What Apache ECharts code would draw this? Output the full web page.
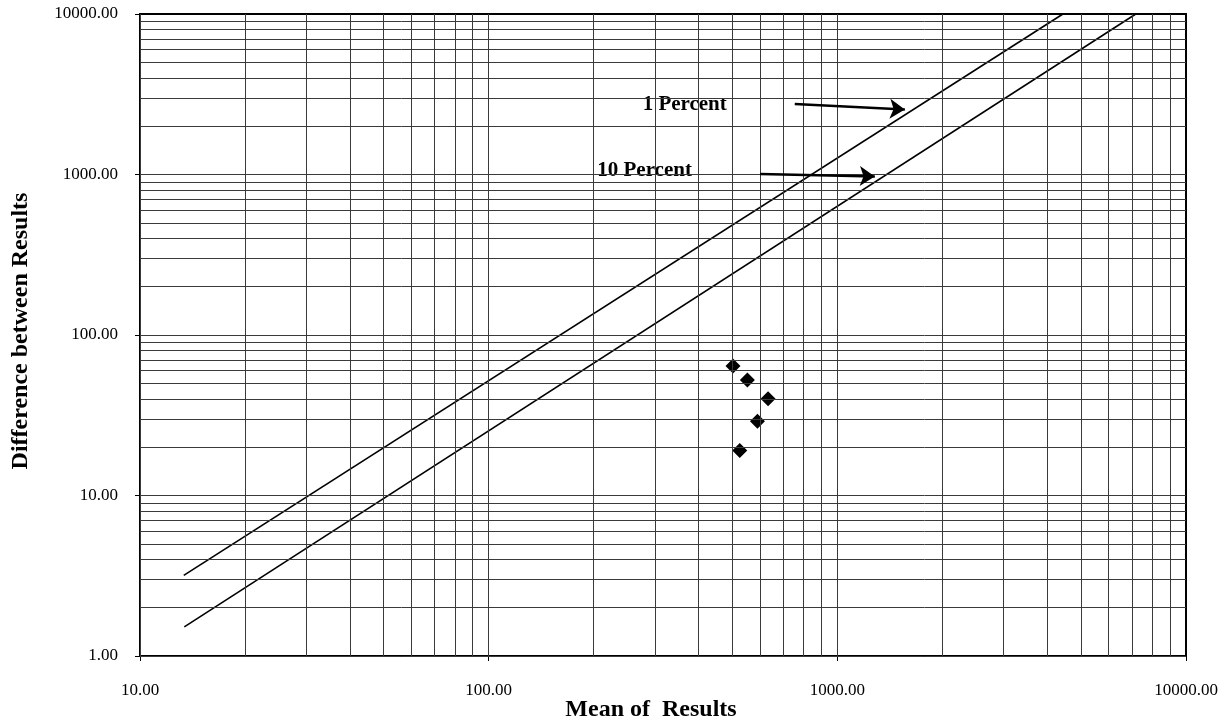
<!DOCTYPE html>
<html>
<head>
<meta charset="utf-8">
<script src="https://cdn.jsdelivr.net/npm/echarts@6/dist/echarts.min.js"></script>
<style>
  html, body { margin: 0; padding: 0; background: #fff; }
  #main { width: 1227px; height: 725px; }
</style>
</head>
<body>
<div id="main"></div>
<script>
// data
var meanX = [502, 552, 633, 590, 525];
var diffY = [64.2, 52.5, 40.1, 29.0, 19.1];

var line1x = [13.35, 4436];
var line1y = [3.18, 10000];
var line10x = [13.4, 7178];
var line10y = [1.52, 10000];

var noteNames = ['1 Percent', '10 Percent'];
var noteX = [365, 280];
var noteY = [2726, 1061];
var arrowFrom = [[755, 2754], [600, 1007]];
var arrowTo = [[1562, 2537], [1281, 973]];

var xMinor = [];
var yMinor = [];
[10, 100, 1000].forEach(function (d) {
  for (var i = 1; i <= 9; i++) xMinor.push(d * i);
});
[1, 10, 100, 1000].forEach(function (d) {
  for (var i = 1; i <= 9; i++) yMinor.push(d * i);
});

var font = '"Liberation Serif", "Times New Roman", serif';
var gridColor = '#3a3a3a';

function pairs(xs, ys) {
  return xs.map(function (x, i) { return [x, ys[i]]; });
}

var myChart = echarts.init(document.getElementById('main'));

var gridLines = [];
xMinor.forEach(function (v) { gridLines.push({ xAxis: v }); });
yMinor.forEach(function (v) { gridLines.push({ yAxis: v }); });

var option = {
  animation: false,
  backgroundColor: '#fff',
  grid: {
    left: 140, right: 41, top: 14, bottom: 69,
    outerBoundsMode: 'none',
    containLabel: false,
    show: true, borderColor: '#000', borderWidth: 2
  },
  xAxis: {
    type: 'log',
    logBase: 10,
    min: 10,
    max: 10000,
    name: 'Mean of  Results',
    nameLocation: 'middle',
    nameGap: 42,
    nameMoveOverlap: false,
    nameTextStyle: { fontFamily: font, fontSize: 24, fontWeight: 'bold', color: '#000', padding: [0, 24, 0, 0] },
    axisLine: { lineStyle: { color: '#000', width: 2 } },
    axisTick: { show: true, length: 5, lineStyle: { color: '#000' } },
    axisLabel: {
      margin: 26, fontFamily: font, fontSize: 17, color: '#000',
      formatter: function (v) { return v.toFixed(2); }
    },
    splitLine: { show: false }
  },
  yAxis: {
    type: 'log',
    logBase: 10,
    min: 1,
    max: 10000,
    name: 'Difference between Results',
    nameLocation: 'middle',
    nameGap: 107,
    nameMoveOverlap: false,
    nameTextStyle: { fontFamily: font, fontSize: 24, fontWeight: 'bold', color: '#000', padding: [0, 0, 0, 8] },
    axisLine: { lineStyle: { color: '#000', width: 2 } },
    axisTick: { show: true, length: 5, lineStyle: { color: '#000' } },
    axisLabel: {
      margin: 22, fontFamily: font, fontSize: 17, color: '#000',
      formatter: function (v) { return v.toFixed(2); }
    },
    splitLine: { show: false }
  },
  series: [
    {
      // grid of decades and sub-decades
      type: 'line',
      data: [],
      silent: true,
      markLine: {
        silent: true,
        symbol: ['none', 'none'],
        label: { show: false },
        lineStyle: { color: gridColor, width: 1, type: 'solid' },
        data: gridLines
      }
    },
    {
      name: '1 Percent',
      type: 'line',
      data: pairs(line1x, line1y),
      showSymbol: false,
      lineStyle: { color: '#000', width: 1.6 },
      silent: true
    },
    {
      name: '10 Percent',
      type: 'line',
      data: pairs(line10x, line10y),
      showSymbol: false,
      lineStyle: { color: '#000', width: 1.6 },
      silent: true
    },
    {
      type: 'scatter',
      data: pairs(meanX, diffY),
      symbol: 'diamond',
      symbolSize: 15,
      itemStyle: { color: '#000', opacity: 1 }
    },
    {
      // annotations
      type: 'scatter',
      data: noteNames.map(function (n, i) { return { name: n, value: [noteX[i], noteY[i]] }; }),
      symbolSize: 0,
      silent: true,
      itemStyle: { opacity: 1 },
      label: {
        show: true,
        position: 'inside',
        formatter: '{b}',
        fontFamily: font,
        fontSize: 21,
        fontWeight: 'bold',
        color: '#000',
        opacity: 1
      },
      markLine: {
        silent: true,
        symbol: ['none', 'arrow'],
        symbolSize: 15,
        label: { show: false },
        lineStyle: { color: '#000', width: 2.5, type: 'solid' },
        data: arrowFrom.map(function (p, i) {
          return [{ coord: p }, { coord: arrowTo[i] }];
        })
      }
    }
  ]
};

myChart.setOption(option);
</script>
</body>
</html>
